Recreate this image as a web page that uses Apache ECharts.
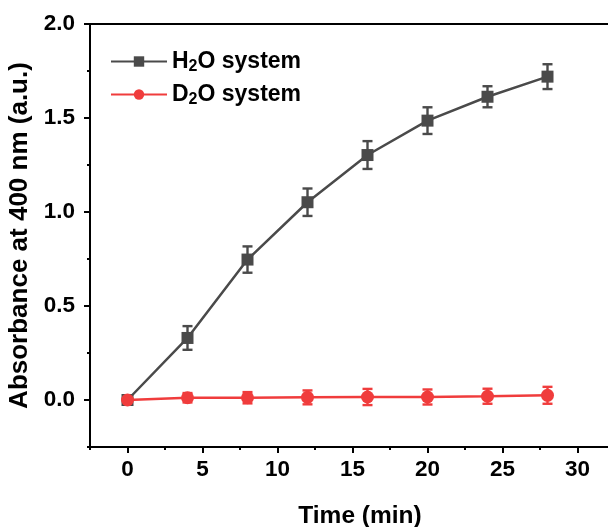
<!DOCTYPE html>
<html>
<head>
<meta charset="utf-8">
<script src="https://cdn.jsdelivr.net/npm/echarts@6/dist/echarts.min.js"></script>
<style>html,body{margin:0;padding:0;background:#fff;}#c{width:608px;height:527px;}</style>
</head>
<body>
<div id="c"></div>
<script>
const times = [0, 4, 8, 12, 16, 20, 24, 28];
const h2oValues = [0, 0.33, 0.747, 1.052, 1.303, 1.486, 1.613, 1.72];
const h2oErrors = [0.015, 0.063, 0.07, 0.073, 0.074, 0.071, 0.056, 0.066];
const d2oValues = [0, 0.012, 0.012, 0.014, 0.016, 0.016, 0.02, 0.025];
const d2oErrors = [0.01, 0.025, 0.03, 0.037, 0.043, 0.04, 0.04, 0.045];
const seriesNames = ['H2O system', 'D2O system'];
const xTickLabels = [0, 5, 10, 15, 20, 25, 30];
const xMinorTicks = [-2.5, 2.5, 7.5, 12.5, 17.5, 22.5, 27.5, 32.5];
const yTickLabels = [0, 0.5, 1.0, 1.5, 2.0];
const yMinorTicks = [-0.25, 0.25, 0.75, 1.25, 1.75];

const FONT = 'Liberation Sans, Arial, sans-serif';
const GREY = '#4a4a4a';
const RED = '#f03c3c';

function pairs(xs, ys) { return xs.map((x, i) => [x, ys[i]]); }
function errData(xs, ys, es) { return xs.map((x, i) => [x, ys[i] - es[i], ys[i] + es[i]]); }
function errRender(color) {
  return function (params, api) {
    const x = api.value(0);
    const lo = api.coord([x, api.value(1)]);
    const hi = api.coord([x, api.value(2)]);
    const w = 5;
    const style = { stroke: color, lineWidth: 2.4 };
    return {
      type: 'group',
      children: [
        { type: 'line', shape: { x1: lo[0], y1: lo[1], x2: hi[0], y2: hi[1] }, style },
        { type: 'line', shape: { x1: lo[0] - w, y1: lo[1], x2: lo[0] + w, y2: lo[1] }, style },
        { type: 'line', shape: { x1: hi[0] - w, y1: hi[1], x2: hi[0] + w, y2: hi[1] }, style }
      ]
    };
  };
}

const chart = echarts.init(document.getElementById('c'), null, { renderer: 'canvas' });
const axisCommonX = { type: 'value', min: -2.5, max: 33.5, splitLine: { show: false } };
const axisCommonY = { type: 'value', min: -0.25, max: 2.0, splitLine: { show: false } };

chart.setOption({
  animation: false,
  backgroundColor: '#fff',
  grid: { left: 90, top: 24, width: 540, height: 423, containLabel: false, outerBoundsMode: 'none',
    show: true, borderColor: '#000', borderWidth: 2, backgroundColor: 'transparent' },
  legend: {
    orient: 'vertical', left: 105, top: 45, itemWidth: 56, itemHeight: 13, itemGap: 8.5,
    data: seriesNames,
    formatter: function (name) {
      return '{a|' + name.charAt(0) + '}{s|2}{a|' + name.slice(2) + '}';
    },
    textStyle: {
      rich: {
        a: { fontFamily: FONT, fontWeight: 'bold', fontSize: 23, color: '#000', lineHeight: 26 },
        s: { fontFamily: FONT, fontWeight: 'bold', fontSize: 16, color: '#000', lineHeight: 16, verticalAlign: 'bottom' }
      }
    }
  },
  xAxis: [
    Object.assign({}, axisCommonX, {
      name: 'Time (min)', nameLocation: 'middle', nameGap: 57,
      nameTextStyle: { fontFamily: FONT, fontWeight: 'bold', fontSize: 24.5, color: '#000' },
      axisLine: { show: true, onZero: false, lineStyle: { color: '#000', width: 2 } },
      axisTick: { show: true, inside: false, length: 6, customValues: xTickLabels, lineStyle: { color: '#000', width: 2 } },
      axisLabel: { show: true, customValues: xTickLabels, margin: 11, fontFamily: FONT, fontWeight: 'bold', fontSize: 22.5, color: '#000' }
    }),
    Object.assign({}, axisCommonX, {
      position: 'bottom',
      axisLine: { show: false, onZero: false },
      axisTick: { show: true, inside: false, length: 3, customValues: xMinorTicks, lineStyle: { color: '#000', width: 2 } },
      axisLabel: { show: false }
    })
  ],
  yAxis: [
    Object.assign({}, axisCommonY, {
      name: 'Absorbance at 400 nm (a.u.)', nameLocation: 'middle', nameGap: 47,
      nameTextStyle: { fontFamily: FONT, fontWeight: 'bold', fontSize: 26, color: '#000' },
      axisLine: { show: true, onZero: false, lineStyle: { color: '#000', width: 2 } },
      axisTick: { show: true, inside: false, length: 6, customValues: yTickLabels, lineStyle: { color: '#000', width: 2 } },
      axisLabel: { show: true, customValues: yTickLabels, margin: 15, fontFamily: FONT, fontWeight: 'bold', fontSize: 22.5, color: '#000',
        formatter: v => Number(v).toFixed(1) }
    }),
    Object.assign({}, axisCommonY, {
      position: 'left',
      axisLine: { show: false, onZero: false },
      axisTick: { show: true, inside: false, length: 3, customValues: yMinorTicks, lineStyle: { color: '#000', width: 2 } },
      axisLabel: { show: false }
    })
  ],
  series: [
    {
      type: 'custom', name: 'h2oErr', xAxisIndex: 0, yAxisIndex: 0, z: 2,
      renderItem: errRender(GREY), data: errData(times, h2oValues, h2oErrors), silent: true
    },
    {
      name: seriesNames[0], type: 'line', xAxisIndex: 0, yAxisIndex: 0, z: 3,
      data: pairs(times, h2oValues), symbol: 'rect', symbolSize: 12,
      lineStyle: { color: GREY, width: 2.5 }, itemStyle: { color: GREY }
    },
    {
      type: 'custom', name: 'd2oErr', xAxisIndex: 0, yAxisIndex: 0, z: 4,
      renderItem: errRender(RED), data: errData(times, d2oValues, d2oErrors), silent: true
    },
    {
      name: seriesNames[1], type: 'line', xAxisIndex: 0, yAxisIndex: 0, z: 5,
      data: pairs(times, d2oValues), symbol: 'circle', symbolSize: 13,
      lineStyle: { color: RED, width: 2.5 }, itemStyle: { color: RED }
    }
  ]
});
</script>
</body>
</html>
